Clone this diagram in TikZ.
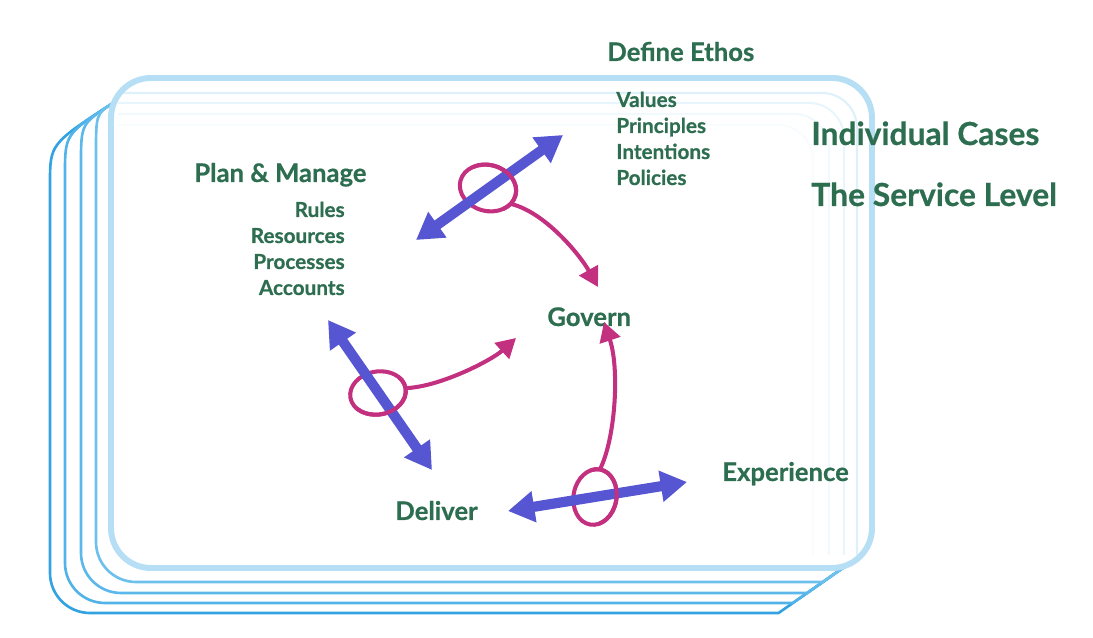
\documentclass[tikz,border=0pt]{standalone}
\usepackage{fontspec}
\setmainfont{Lato}[BoldFeatures={FakeBold=0.6}]
\usetikzlibrary{arrows.meta, shapes.geometric}
\definecolor{labelgreen}{HTML}{2E6E50}
\definecolor{flowblue}{HTML}{5656D2}
\definecolor{linkmagenta}{HTML}{C2307F}
\definecolor{cardfront}{HTML}{B6DFF5}
\definecolor{cardA}{HTML}{33A2E0}
\definecolor{cardB}{HTML}{52B3E8}
\definecolor{cardC}{HTML}{5CB8EA}
\definecolor{cardD}{HTML}{6CC0EC}

\begin{document}
\begin{tikzpicture}[
    x=0.02cm, y=-0.02cm,
    head/.style={font=\bfseries\fontsize{14.6}{16}\selectfont, text=labelgreen, inner sep=0pt, anchor=base west},
    item/.style={font=\bfseries\fontsize{11.8}{13}\selectfont, text=labelgreen, inner sep=0pt},
    level/.style={font=\bfseries\fontsize{18.1}{20}\selectfont, text=labelgreen, inner sep=0pt, anchor=base west},
    backcard/.style={draw=#1, line width=1.5pt},
    ghost/.style={draw=cardfront, line width=1.2pt, opacity=#1, rounded corners=0.7cm},
    ring/.style={ellipse, draw=linkmagenta, line width=2.3pt, inner sep=0pt, outer sep=0pt, minimum width=1.12cm, minimum height=0.86cm},
    ringline/.style={draw=linkmagenta, line width=2.3pt},
    dbl/.style={{Triangle[length=15pt,width=17pt]}-{Triangle[length=15pt,width=17pt]}, line width=5.8pt, flowblue},
    link/.style={-{Triangle[length=11pt,width=12pt]}, line width=2.3pt, linkmagenta},
  ]
  \useasboundingbox (0,0) rectangle (1093,638);

  % stack of cards behind
  \foreach \L/\B/\col in {50/613/cardA, 65/603/cardB, 81/593/cardC, 96/582/cardD}{
    \pgfmathsetmacro{\Ty}{103+(113-\L)*0.65}
    \pgfmathsetmacro{\Cx}{850-(\B-563)/0.7}
    \draw[backcard=\col] (113,103) .. controls (\L,\Ty) .. (\L,\Ty+40)
      {[rounded corners=0.8cm] -- (\L,\B) -- (\Cx-40,\B)} .. controls (\Cx,\B) .. (850,563);
  }
  \foreach \T/\R/\op in {93/857/0.45, 103/844/0.3, 114/829/0.18, 125/813/0.1}
    \draw[ghost=\op] (118,\T) -- (\R,\T) -- (\R,555);
  \draw[draw=cardfront, line width=3.4pt, rounded corners=0.8cm] (111,78) rectangle (872,568);

  % labels
  \node[head] (ethos) at (607,61) {Define Ethos};
  \foreach \t [count=\i] in {Values,Principles,Intentions,Policies}
    \node[item, anchor=base west] (v\i) at (616,81+26*\i) {\t};
  \node[level] (cases) at (811,145) {Individual Cases};
  \node[level] (service) at (811,206) {The Service Level};
  \node[head] (plan) at (194,182) {Plan \& Manage};
  \foreach \t [count=\i] in {Rules,Resources,Processes,Accounts}
    \node[item, anchor=base east] (p\i) at (345,191+26*\i) {\t};
  \node[head] (govern) at (547,326) {Govern};
  \node[head] (experience) at (722,481) {Experience};
  \node[head] (deliver) at (395,520) {Deliver};

  % rings
  \node[ring, rotate=-15, minimum width=1.14cm, minimum height=0.92cm] (ringEthos) at (488,188) {};
  \node[ring, rotate=10] (ringPlan) at (378,393) {};
  \node[ring, rotate=80] (ringDeliver) at (595,497) {};

  % two-way flows
  \coordinate (ethosIn) at (416,240);
  \coordinate (ethosOut) at (563,135);
  \coordinate (planIn) at (328,320);
  \coordinate (planOut) at (432,470);
  \coordinate (deliverIn) at (508,511);
  \coordinate (deliverOut) at (687,482);
  \draw[dbl] (ethosIn) -- (ethosOut);
  \draw[dbl] (planIn) -- (planOut);
  \draw[dbl] (deliverIn) -- (deliverOut);

  % ring parts lying over the flows
  \begin{scope}
    \clip[rotate around={35.5:(488,188)}] (488,108) rectangle (568,268);
    \draw[ringline, rotate around={-15:(488,188)}] (488,188) ellipse (28.5 and 23);
  \end{scope}
  \begin{scope}
    \clip[rotate around={-55.3:(378,393)}] (378,313) rectangle (458,473);
    \draw[ringline, rotate around={10:(378,393)}] (378,393) ellipse (28 and 21.5);
  \end{scope}
  \begin{scope}
    \clip[rotate around={8.9:(595,497)}] (595,417) rectangle (675,577);
    \draw[ringline, rotate around={80:(595,497)}] (595,497) ellipse (28 and 21.5);
  \end{scope}

  % links towards Govern
  \coordinate (ethosTip) at (598,287);
  \coordinate (planTip) at (516,338);
  \coordinate (deliverTip) at (604,322);
  \draw[link] (ringEthos.-20) .. controls (545,212) and (580,255) .. (ethosTip);
  \draw[link] (ringPlan.east) .. controls (440,387) and (492,360) .. (planTip);
  \draw[link] (ringDeliver.east) .. controls (615,440) and (620,370) .. (deliverTip);
\end{tikzpicture}
\end{document}
